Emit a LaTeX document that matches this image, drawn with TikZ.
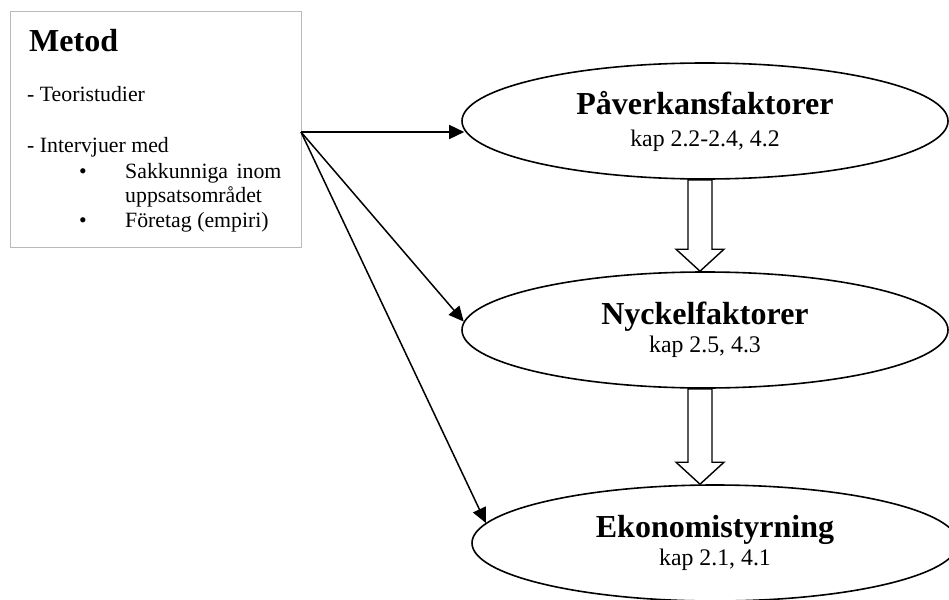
\documentclass[tikz,border=0pt]{standalone}
\usepackage{fontspec}
\setmainfont{Liberation Serif}
\usepackage{tikz}
\usetikzlibrary{shapes, calc, positioning, arrows.meta}

\newcommand{\titlefont}{\fontsize{32}{38}\selectfont\bfseries}
\newcommand{\kapfont}{\fontsize{23.8}{28}\selectfont}
\newcommand{\metodfont}{\fontsize{21.8}{26}\selectfont}
\newcommand{\hollowarrow}[2]{%
	\draw[blockarrow] ($(#1.south |- #2.north)+(-5,0)$) -- ++(-24,-22) -- ++(12,0) coordinate (sl) -- (sl |- #1.south) -- ++(24,0) coordinate (sr) -- (sr |- sl) -- ++(12,0) -- cycle;}

\begin{document}
\begin{tikzpicture}[x=1pt, y=-1pt,
	ellipsebox/.style={ellipse, draw, line width=1.6pt, fill=white, minimum width=486pt, minimum height=116pt, align=center, font=\kapfont},
	metodtext/.style={anchor=base west, inner sep=0pt, font=\metodfont},
	thinarrow/.style={line width=1.5pt, -{Triangle[length=15pt,width=14pt]}},
	blockarrow/.style={draw, line width=1.4pt, fill=white, line join=miter}]
		\clip (0,0) rectangle (949,599);
		\fill[white] (0,0) rectangle (949,599);
		
		\node[draw=gray!55, line width=1pt, minimum width=291pt, minimum height=236pt, anchor=north west, inner sep=0pt] (metod) at (10,11) {};
		\node[anchor=base west, inner sep=0pt, font=\titlefont] (rubrik) at (29,52) {Metod};
		\node[metodtext] (teori) at (27,102) {- Teoristudier};
		\node[metodtext] (intervju) at (27,152) {- Intervjuer med};
		\node[metodtext, anchor=base] (punkta) at (83,178) {\textbullet};
		\node[metodtext] (sakkunniga) at (125,178) {Sakkunniga\hspace{8.5pt}inom};
		\node[metodtext] (omrade) at (125,202) {uppsatsområdet};
		\node[metodtext, anchor=base] (punktb) at (83,227) {\textbullet};
		\node[metodtext] (foretag) at (125,227) {Företag (empiri)};
		
		\node[ellipsebox] (paverkan) at (705,121) {{\titlefont Påverkansfaktorer}\\[4pt]kap 2.2-2.4, 4.2};
		\node[ellipsebox] (nyckel) at (705,330) {{\titlefont Nyckelfaktorer}\\kap 2.5, 4.3};
		\node[ellipsebox] (ekonomi) at (715,543) {{\titlefont Ekonomistyrning}\\kap 2.1, 4.1};
		
		\coordinate (src) at (301,132);
		\draw[thinarrow] (src) -- ($(paverkan.west |- src)+(3,0)$);
		\draw[thinarrow] (src) -- (nyckel.178);
		\draw[thinarrow] (src) -- (ekonomi.175);
		
		\hollowarrow{paverkan}{nyckel}
		\hollowarrow{nyckel}{ekonomi}
\end{tikzpicture}
\end{document}
